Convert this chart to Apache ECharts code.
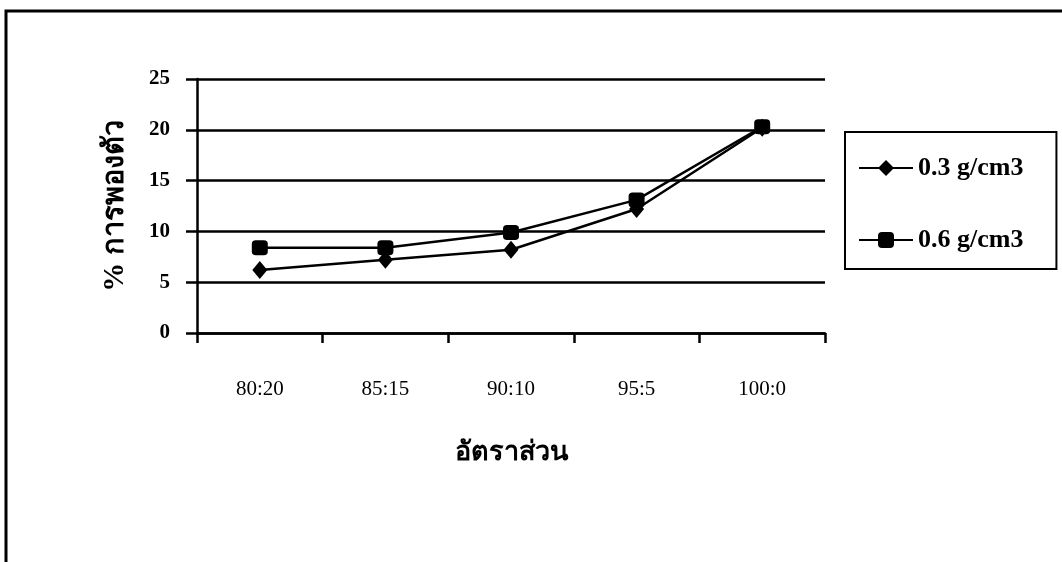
<!DOCTYPE html>
<html>
<head>
<meta charset="utf-8">
<script src="https://cdn.jsdelivr.net/npm/echarts@6/dist/echarts.min.js"></script>
<style>
html,body{margin:0;padding:0;background:#fff;}
#chart{width:1062px;height:562px;}
</style>
</head>
<body>
<div id="chart"></div>
<script>
const categories = ['80:20', '85:15', '90:10', '95:5', '100:0'];
const seriesNames = ['0.3 g/cm3', '0.6 g/cm3'];
const values03 = [6.2, 7.2, 8.2, 12.2, 20.2];
const values06 = [8.4, 8.4, 9.9, 13.1, 20.3];
const yTicks = { min: 0, max: 25, interval: 5 };
const yTitle = '% การพองตัว';
const xTitle = 'อัตราส่วน';

const serif = '"Liberation Serif", "Times New Roman", serif';
const chart = echarts.init(document.getElementById('chart'), null, { renderer: 'canvas' });

chart.setOption({
  backgroundColor: '#fff',
  animation: false,
  grid: { left: 197, right: 237, top: 79, bottom: 229, containLabel: false },
  legend: {
    orient: 'vertical',
    left: 845,
    top: 132,
    data: seriesNames,
    itemWidth: 54,
    itemHeight: 20,
    itemGap: 46,
    itemTextGap: 10,
    padding: [23, 33, 16, 13],
    borderColor: '#000',
    borderWidth: 2,
    textStyle: { fontFamily: serif, fontWeight: 'bold', fontSize: 26, lineHeight: 26, color: '#000' }
  },
  xAxis: {
    type: 'category',
    data: categories,
    boundaryGap: true,
    axisLine: { lineStyle: { color: '#000', width: 2.5 } },
    axisTick: { show: true, length: 10, alignWithLabel: false, lineStyle: { color: '#000', width: 2.5 } },
    axisLabel: { margin: 46, fontFamily: serif, fontSize: 21, color: '#000' },
    name: xTitle,
    nameLocation: 'middle',
    nameGap: 107,
    nameTextStyle: { fontFamily: serif, fontWeight: 'bold', fontSize: 27, color: '#000' },
    splitLine: { show: false }
  },
  yAxis: {
    type: 'value',
    min: yTicks.min,
    max: yTicks.max,
    interval: yTicks.interval,
    axisLine: { show: true, lineStyle: { color: '#000', width: 2.5 } },
    axisTick: { show: true, length: 11, lineStyle: { color: '#000', width: 2.5 } },
    axisLabel: { margin: 27, fontFamily: serif, fontWeight: 'bold', fontSize: 21, color: '#000' },
    splitLine: { show: true, lineStyle: { color: '#000', width: 2.5 } },
    name: yTitle,
    nameLocation: 'middle',
    nameGap: 67,
    nameRotate: 90,
    nameTextStyle: { fontFamily: serif, fontWeight: 'bold', fontSize: 29, color: '#000' }
  },
  series: [
    {
      name: seriesNames[0],
      type: 'line',
      data: values03,
      symbol: 'diamond',
      symbolSize: [15, 18],
      lineStyle: { color: '#000', width: 2.5 },
      itemStyle: { color: '#000' },
      z: 3
    },
    {
      name: seriesNames[1],
      type: 'line',
      data: values06,
      symbol: 'roundRect',
      symbolSize: [16, 15],
      lineStyle: { color: '#000', width: 2.5 },
      itemStyle: { color: '#000' },
      z: 4
    }
  ],
  graphic: [
    {
      type: 'polyline',
      shape: { points: [[6, 562], [6, 11], [1062, 11]] },
      style: { stroke: '#000', lineWidth: 3, fill: null }
    }
  ]
});
</script>
</body>
</html>
